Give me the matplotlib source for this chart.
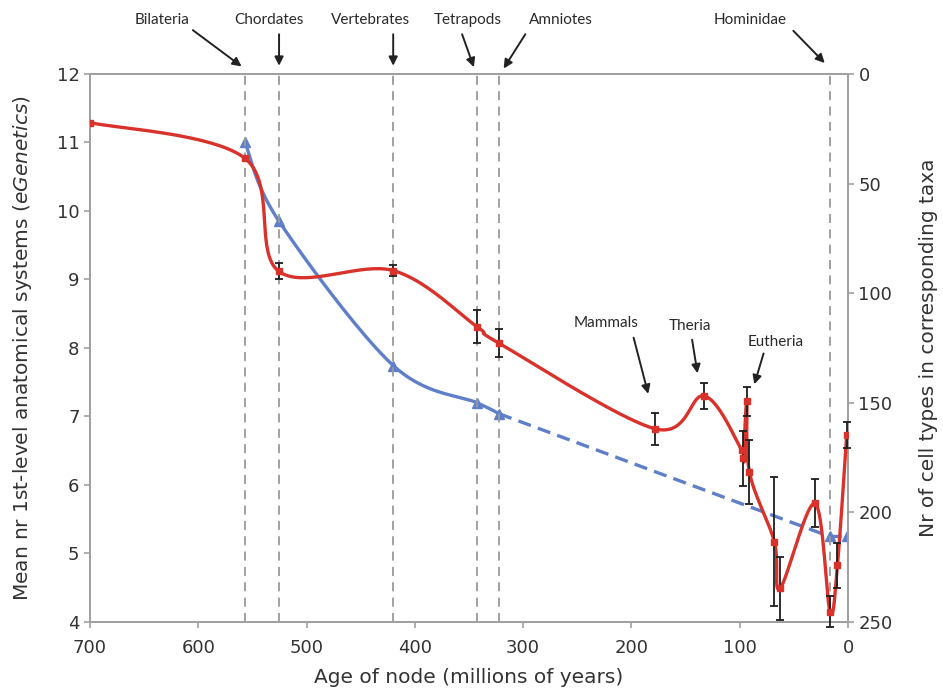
import numpy as np
import matplotlib
matplotlib.use('Agg')
import matplotlib.pyplot as plt

# red series: mean nr of 1st-level anatomical systems (left axis)
red_age = [700, 557, 525.7, 420, 342.6, 322.3, 178.2, 132.7, 98.2, 96.7, 93.5, 91.1,
           68, 62.8, 30.5, 16.6, 9.8, 1.2]
red_val = [11.29, 10.77, 9.12, 9.13, 8.31, 8.07, 6.82, 7.30, 6.51, 6.39, 7.22, 6.19,
           5.17, 4.49, 5.73, 4.15, 4.83, 6.73]
red_err = [0, 0, 0.12, 0.08, 0.24, 0.20, 0.23, 0.19, 0, 0.40, 0.21, 0.47,
           0.94, 0.46, 0.35, 0.23, 0.33, 0.19]

# blue series: nr of cell types (right axis)
blue_age = [557, 525.7, 420, 342.6, 322.3]
blue_val = [31, 67, 133, 150, 155]
blue_dash_age = [322.3, 17, 1.2]
blue_dash_val = [155, 211, 211]
blue_tri_age = [557, 525.7, 420, 342.6, 322.3, 17, 1.2]
blue_tri_val = [31, 67, 133, 150, 155, 211, 211]

node_age = [557, 525.7, 420, 342.6, 322.3, 17]

RED = '#d8322b'
BLUE = '#5f7fc9'


def smooth(xs, ys, sx, sy, n=40):
    # excel-like smoothed line (catmull-rom as bezier), computed in pixel space
    p = np.column_stack([np.array(xs) * sx, np.array(ys) * sy])
    p = np.vstack([p[0], p, p[-1]])
    out = []
    t = np.linspace(0, 1, n)[:, None]
    for i in range(1, len(p) - 2):
        p0, p1, p2, p3 = p[i - 1], p[i], p[i + 1], p[i + 2]
        c1 = p1 + (p2 - p0) / 6
        c2 = p2 - (p3 - p1) / 6
        b = ((1 - t) ** 3) * p1 + 3 * ((1 - t) ** 2) * t * c1 + 3 * (1 - t) * t ** 2 * c2 + t ** 3 * p2
        out.append(b)
    out = np.vstack(out)
    return out[:, 0] / sx, out[:, 1] / sy


fig = plt.figure(figsize=(9.43, 6.9), dpi=100)
ax = fig.add_axes([0.0954, 0.0986, 0.8039, 0.7942])
ax2 = ax.twinx()
ax.set_zorder(ax2.get_zorder() + 1)
ax.patch.set_visible(False)

ax.set_xlim(700, 0)
ax.set_ylim(4, 12)
ax2.set_ylim(250, 0)

for a in node_age:
    ax.axvline(a, color='#9a9a9a', lw=1.3, ls=(0, (5, 3.5)), zorder=1)

# blue
bx, by = smooth(blue_age, blue_val, 758 / 700, 548 / 250)
ax2.plot(bx, by, color=BLUE, lw=2.4, solid_capstyle='round')
ax2.plot(blue_dash_age, blue_dash_val, color=BLUE, lw=2.4, ls=(0, (4, 2.2)))
ax2.plot(blue_tri_age, blue_tri_val, ls='none', marker='^', ms=6.5, color=BLUE)

# red
rx, ry = smooth(red_age, red_val, 758 / 700, 68.5)
ax.plot(rx, ry, color=RED, lw=2.4, zorder=3)
ea = [a for a, e in zip(red_age, red_err) if e > 0]
ev = [v for v, e in zip(red_val, red_err) if e > 0]
ee = [e for e in red_err if e > 0]
ax.errorbar(ea, ev, yerr=ee, fmt='none', ecolor='#1e1e1e', elinewidth=1.3,
            capsize=3, capthick=1.3, zorder=4, clip_on=False)
ax.plot(red_age, red_val, ls='none', marker='s', ms=5, color=RED, zorder=5)

# axes styling
for a in (ax, ax2):
    for s in a.spines.values():
        s.set_color('#a0a0a0')
        s.set_linewidth(1.3)
ax.set_xticks(range(700, -1, -100))
ax.set_yticks(range(4, 13))
ax2.set_yticks(range(0, 251, 50))
ax.tick_params(colors='#a0a0a0', labelcolor='#333333', labelsize=13, length=4, width=1.2)
ax2.tick_params(colors='#a0a0a0', labelcolor='#333333', labelsize=13, length=4, width=1.2)
ax.tick_params(axis='x', pad=8)

ax.set_xlabel('Age of node (millions of years)', fontsize=14.5, color='#333333', labelpad=8)
ax.set_ylabel(r'Mean nr 1st-level anatomical systems ($\it{eGenetics}$)', fontsize=14.5,
              color='#333333', labelpad=16)
ax2.set_ylabel('Nr of cell types in corresponding taxa', fontsize=14.5, color='#333333',
               labelpad=19)

# annotations (text position, arrow tail, arrow head)
notes = [
    ('Bilateria', (633.5, 12.79), (605, 12.64), (560, 12.11)),
    ('Chordates', (534.5, 12.79), (525.4, 12.58), (525.4, 12.12)),
    ('Vertebrates', (441, 12.79), (420, 12.58), (420, 12.12)),
    ('Tetrapods', (351.5, 12.79), (356.4, 12.58), (345.5, 12.1)),
    ('Amniotes', (265, 12.79), (298, 12.58), (318, 12.08)),
    ('Hominidae', (90, 12.79), (50.5, 12.63), (21.5, 12.16)),
    ('Mammals', (223.5, 8.36), (198, 8.15), (184.5, 7.33)),
    ('Theria', (146, 8.32), (144, 8.12), (139, 7.63)),
    ('Eutheria', (66.5, 8.08), (78, 7.92), (86.5, 7.47)),
]
for label, tpos, tail, head in notes:
    ax.text(tpos[0], tpos[1], label, ha='center', va='center', fontsize=11,
            family='Lato', color='#2a2a2a', clip_on=False)
    ax.annotate('', xy=head, xytext=tail, annotation_clip=False,
                arrowprops=dict(arrowstyle='-|>', color='#222222', lw=1.4,
                                mutation_scale=13, shrinkA=0, shrinkB=0))

fig.savefig('out.png', dpi=100)
